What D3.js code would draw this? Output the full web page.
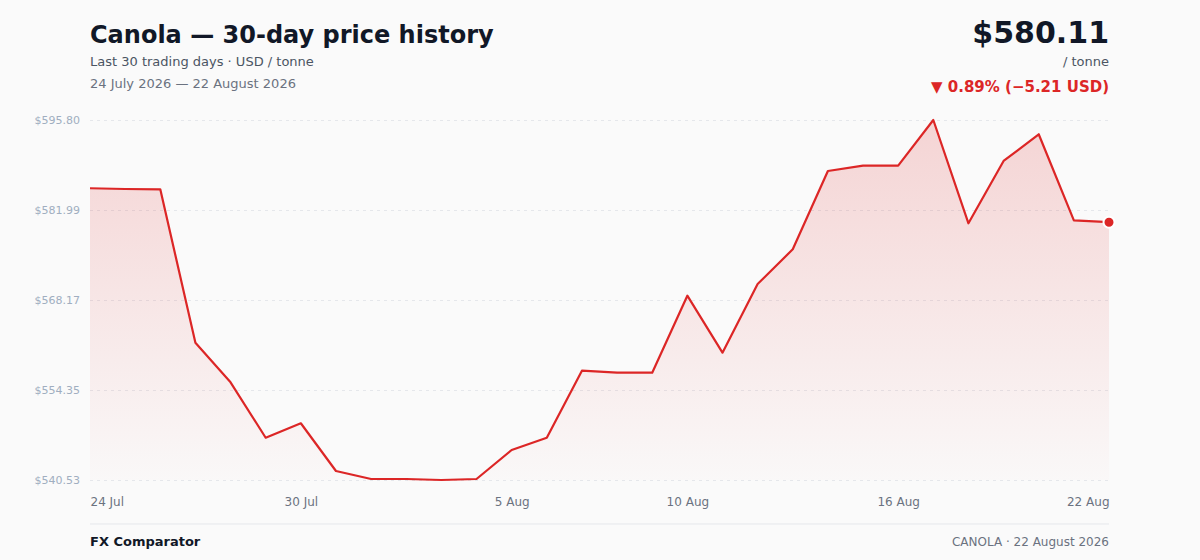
<!DOCTYPE html>
<html>
<head>
<meta charset="utf-8">
<script src="https://cdn.jsdelivr.net/npm/d3@7"></script>
<style>
  html, body { margin: 0; padding: 0; background: #fafafa; }
  svg { display: block; font-family: "DejaVu Sans", sans-serif; }
</style>
</head>
<body>
<svg id="chart" width="1200" height="560"></svg>
<script>
// data, one value per calendar day
let dates = ["2026-07-24","2026-07-25","2026-07-26","2026-07-27","2026-07-28","2026-07-29",
  "2026-07-30","2026-07-31","2026-08-01","2026-08-02","2026-08-03","2026-08-04","2026-08-05",
  "2026-08-06","2026-08-07","2026-08-08","2026-08-09","2026-08-10","2026-08-11","2026-08-12",
  "2026-08-13","2026-08-14","2026-08-15","2026-08-16","2026-08-17","2026-08-18","2026-08-19",
  "2026-08-20","2026-08-21","2026-08-22"];
let prices = [585.32, 585.21, 585.16, 561.61, 555.53, 547.02, 549.24, 541.91, 540.68, 540.68,
  540.53, 540.68, 545.14, 547.02, 557.31, 557.00, 557.00, 568.83, 560.08, 570.62,
  575.95, 587.97, 588.79, 588.79, 595.80, 579.94, 589.51, 593.61, 580.40, 580.11];
let xTickIdx = [0, 6, 12, 17, 23, 29];
let xTickLabels = ["24 Jul", "30 Jul", "5 Aug", "10 Aug", "16 Aug", "22 Aug"];
let yTickLabels = ["$540.53", "$554.35", "$568.17", "$581.99", "$595.80"];

let svg = d3.select("#chart");
let plotLeft = 90, plotRight = 1109, plotTop = 120, plotBottom = 480;

let parse = d3.timeParse("%Y-%m-%d");
let data = dates.map((d, i) => ({ date: parse(d), value: prices[i] }));

let xScale = d3.scaleTime().domain(d3.extent(data, d => d.date)).range([plotLeft, plotRight]);
let yMin = d3.min(prices), yMax = d3.max(prices);
let yScale = d3.scaleLinear().domain([yMin, yMax]).range([plotBottom, plotTop]);
let yTicks = yTickLabels.map((t, k) => yMin + (yMax - yMin) * k / (yTickLabels.length - 1));

// header
svg.append("text").attr("x", plotLeft).attr("y", 43)
  .attr("font-size", 24).attr("font-weight", "bold").attr("fill", "#111827")
  .text("Canola — 30-day price history");
svg.append("text").attr("x", plotLeft).attr("y", 66)
  .attr("font-size", 13).attr("fill", "#4b5563")
  .text("Last 30 trading days · USD / tonne");
svg.append("text").attr("x", plotLeft).attr("y", 88)
  .attr("font-size", 13).attr("fill", "#6b7280")
  .text("24 July 2026 — 22 August 2026");

let last = prices[prices.length - 1], first = prices[0];
let diff = last - first;
svg.append("text").attr("x", plotRight).attr("y", 43).attr("text-anchor", "end")
  .attr("font-size", 30).attr("font-weight", "bold").attr("fill", "#111827")
  .text("$" + last.toFixed(2));
svg.append("text").attr("x", plotRight).attr("y", 66).attr("text-anchor", "end")
  .attr("font-size", 13).attr("fill", "#4b5563")
  .text("/ tonne");
svg.append("text").attr("x", plotRight).attr("y", 92).attr("text-anchor", "end")
  .attr("font-size", 15).attr("font-weight", "bold").attr("fill", "#dc2626")
  .text("▼ " + Math.abs(diff / first * 100).toFixed(2) + "% (−" + Math.abs(diff).toFixed(2) + " USD)");

// gridlines + y labels
let yAxis = d3.axisLeft(yScale).tickValues(yTicks)
  .tickSize(-(plotRight - plotLeft)).tickPadding(10)
  .tickFormat((d, i) => yTickLabels[i]);
let gy = svg.append("g").attr("transform", `translate(${plotLeft},0)`).call(yAxis);
gy.select(".domain").remove();
gy.selectAll(".tick line").attr("stroke", "#e5e7eb").attr("stroke-dasharray", "3,4");
gy.selectAll(".tick text").attr("fill", "#a0aec0").attr("font-size", 11)
  .attr("font-family", "DejaVu Sans, sans-serif");

// area gradient
let defs = svg.append("defs");
let grad = defs.append("linearGradient").attr("id", "fade")
  .attr("x1", 0).attr("y1", 0).attr("x2", 0).attr("y2", 1);
grad.append("stop").attr("offset", "0%").attr("stop-color", "#dc2626").attr("stop-opacity", 0.18);
grad.append("stop").attr("offset", "100%").attr("stop-color", "#dc2626").attr("stop-opacity", 0.01);

let area = d3.area().x(d => xScale(d.date)).y0(plotBottom).y1(d => yScale(d.value));
svg.append("path").datum(data).attr("fill", "url(#fade)").attr("d", area);

let line = d3.line().x(d => xScale(d.date)).y(d => yScale(d.value));
svg.append("path").datum(data)
  .attr("fill", "none").attr("stroke", "#dc2626").attr("stroke-width", 2.2)
  .attr("stroke-linejoin", "round").attr("d", line);

let end = data[data.length - 1];
svg.append("circle").attr("cx", xScale(end.date)).attr("cy", yScale(end.value)).attr("r", 5.5)
  .attr("fill", "#dc2626").attr("stroke", "#ffffff").attr("stroke-width", 2);

// x axis labels
let xAxis = d3.axisBottom(xScale)
  .tickValues(xTickIdx.map(i => data[i].date))
  .tickSize(0).tickPadding(0)
  .tickFormat((d, i) => xTickLabels[i]);
let gx = svg.append("g").attr("transform", `translate(0,${plotBottom + 17})`).call(xAxis);
gx.select(".domain").remove();
gx.selectAll(".tick text").attr("fill", "#6b7280").attr("font-size", 12)
  .attr("font-family", "DejaVu Sans, sans-serif")
  .attr("text-anchor", (d, i) => i === 0 ? "start" : (i === xTickIdx.length - 1 ? "end" : "middle"));

// footer
svg.append("line").attr("x1", plotLeft).attr("x2", plotRight).attr("y1", 524).attr("y2", 524)
  .attr("stroke", "#e5e7eb").attr("stroke-width", 1);
svg.append("text").attr("x", plotLeft).attr("y", 546)
  .attr("font-size", 13).attr("font-weight", "bold").attr("fill", "#111827")
  .text("FX Comparator");
svg.append("text").attr("x", plotRight).attr("y", 546).attr("text-anchor", "end")
  .attr("font-size", 12).attr("fill", "#6b7280")
  .text("CANOLA · 22 August 2026");
</script>
</body>
</html>
